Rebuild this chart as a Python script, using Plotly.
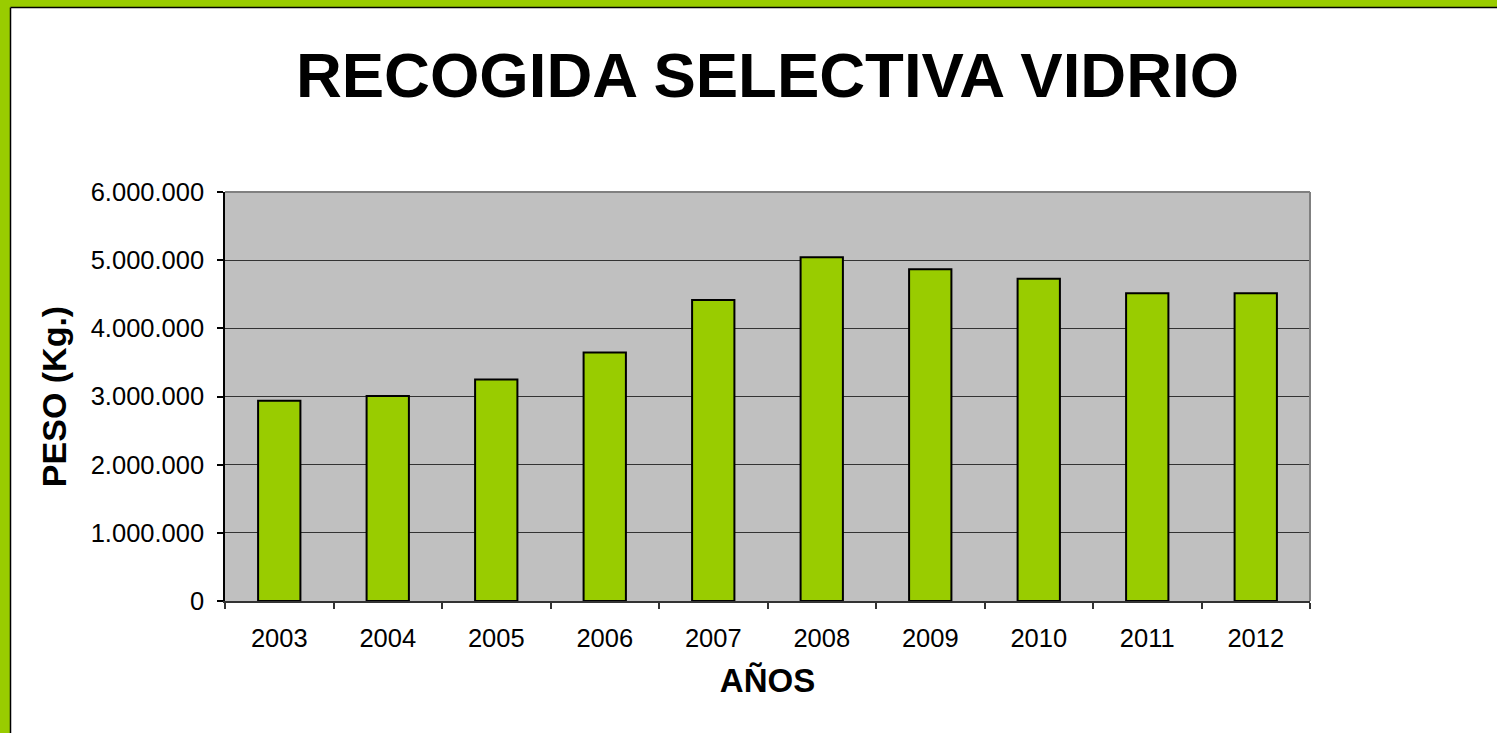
import plotly.graph_objects as go

years = ["2003", "2004", "2005", "2006", "2007", "2008", "2009", "2010", "2011", "2012"]
peso_kg = [2936000, 3008000, 3248000, 3645000, 4416000, 5044000, 4867000, 4727000, 4514000, 4514000]
y_ticks = [0, 1000000, 2000000, 3000000, 4000000, 5000000, 6000000]

title_text = "RECOGIDA SELECTIVA VIDRIO"
x_title = "AÑOS"
y_title = "PESO (Kg.)"

W, H = 1497, 733
ML, MR, MT, MB = 225, 187, 192, 132
PW, PH = W - ML - MR, H - MT - MB
GREEN = "#99CC00"
FONT = "Arial, Liberation Sans, sans-serif"


def px_x(px):
    return (px - ML) / PW


def px_y(py):
    return 1 - (py - MT) / PH


fig = go.Figure()
fig.add_trace(go.Bar(
    x=years, y=peso_kg,
    marker=dict(color=GREEN, line=dict(color="black", width=2)),
    width=0.39,
    hoverinfo="x+y",
))

shapes = [
    # green frame (left and top strips)
    dict(type="rect", xref="paper", yref="paper", x0=px_x(-5), x1=px_x(10), y0=px_y(-5), y1=px_y(H + 5),
         fillcolor=GREEN, line=dict(width=0), layer="above"),
    dict(type="rect", xref="paper", yref="paper", x0=px_x(-5), x1=px_x(W + 5), y0=px_y(-5), y1=px_y(7),
         fillcolor=GREEN, line=dict(width=0), layer="above"),
    dict(type="line", xref="paper", yref="paper", x0=px_x(10.5), x1=px_x(10.5), y0=px_y(7.5), y1=px_y(H + 5),
         line=dict(color="black", width=1.5), layer="above"),
    dict(type="line", xref="paper", yref="paper", x0=px_x(10.5), x1=px_x(W + 5), y0=px_y(7.5), y1=px_y(7.5),
         line=dict(color="black", width=1.5), layer="above"),
    # plot area border top & right (gray)
    dict(type="line", xref="x domain", yref="y domain", x0=0, x1=1, y0=1, y1=1,
         line=dict(color="#808080", width=2), layer="above"),
    dict(type="line", xref="x domain", yref="y domain", x0=1, x1=1, y0=0, y1=1,
         line=dict(color="#808080", width=2), layer="above"),
]

fig.update_layout(
    width=W, height=H,
    margin=dict(l=ML, r=MR, t=MT, b=MB, pad=0),
    paper_bgcolor="white",
    plot_bgcolor="#C0C0C0",
    separators=",.",
    showlegend=False,
    bargap=0.6,
    font=dict(family=FONT, color="black"),
    title=dict(
        text="<b>" + title_text + "</b>",
        font=dict(family=FONT, size=63.5, color="black"),
        x=0.5, xref="paper", xanchor="center",
        y=1 - 75 / H, yref="container", yanchor="middle",
    ),
    xaxis=dict(
        type="category",
        showline=True, linecolor="#333333", linewidth=1.5,
        ticks="outside", tickson="boundaries", ticklen=6, tickcolor="#333333", tickwidth=1.5,
        tickfont=dict(family=FONT, size=25.5, color="black"),
        ticklabelstandoff=14,
        showgrid=False,
        title=dict(text="<b>" + x_title + "</b>", font=dict(family=FONT, size=33, color="black"), standoff=18),
    ),
    yaxis=dict(
        range=[0, 6000000],
        tickvals=y_ticks,
        tickformat=",d",
        showline=True, linecolor="black", linewidth=1.5,
        ticks="outside", ticklen=6, tickcolor="black", tickwidth=1.5,
        tickfont=dict(family=FONT, size=25.5, color="black"),
        ticklabelstandoff=8,
        showgrid=True, gridcolor="#333333", gridwidth=1.2,
        zeroline=False,
        title=dict(text="<b>" + y_title + "</b>", font=dict(family=FONT, size=34, color="black"), standoff=14),
    ),
    shapes=shapes,
)

fig.write_html(
    "out.html",
    config={"displayModeBar": False},
    post_script="document.body.style.margin='0px';document.body.style.overflow='hidden';",
)
